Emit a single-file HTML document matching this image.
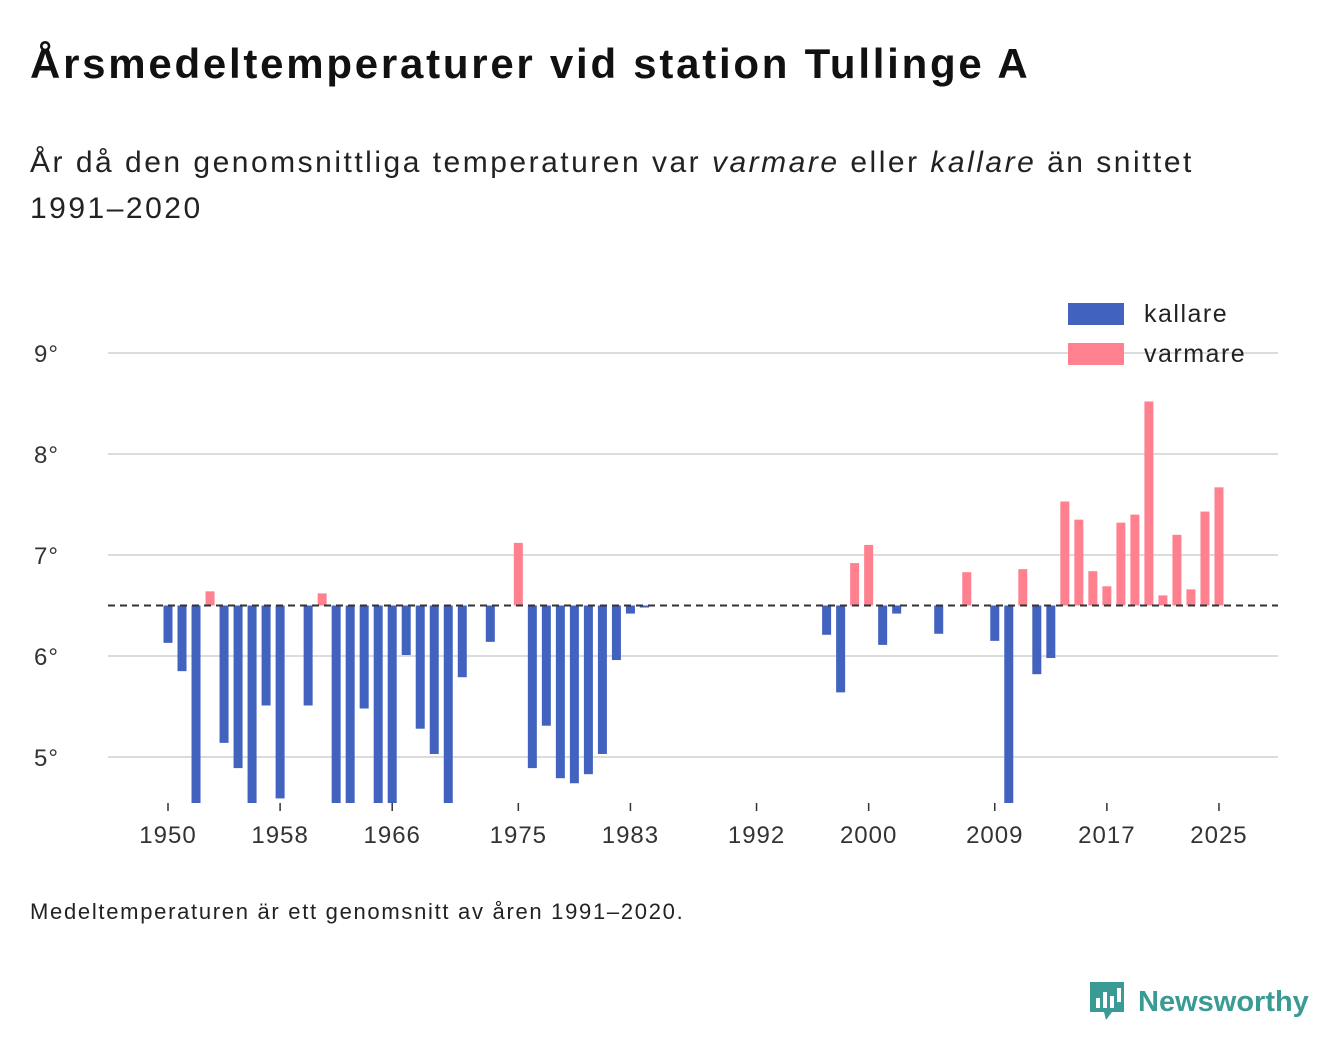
<!DOCTYPE html>
<html><head><meta charset="utf-8">
<style>
body{margin:0;background:#fff;width:1340px;height:1056px;overflow:hidden;font-family:"Liberation Sans",sans-serif;color:#111}
h1{position:absolute;left:30px;top:40px;margin:0;font-size:42px;font-weight:bold;letter-spacing:2.75px;white-space:nowrap}
.sub{position:absolute;left:30px;top:140px;font-size:30px;line-height:46px;width:1200px;color:#222;letter-spacing:2.5px}
.foot{position:absolute;left:30px;top:899px;font-size:22px;color:#222;letter-spacing:1.7px;white-space:nowrap}
.logo{position:absolute;left:1088px;top:980px;display:flex;align-items:center;color:#3a9a94;font-size:29px;font-weight:bold}
svg{position:absolute;left:0;top:0}
</style></head><body>
<h1>Årsmedeltemperaturer vid station Tullinge A</h1>
<div class="sub">År då den genomsnittliga temperaturen var <i>varmare</i> eller <i>kallare</i> än snittet 1991–2020</div>
<div class="foot">Medeltemperaturen är ett genomsnitt av åren 1991–2020.</div>
<div class="logo">
<svg width="40" height="44" viewBox="0 0 40 44" style="position:static;margin-right:10px"><path d="M2 2h34v30H24l-6 8-2-8H2z" fill="#3a9a94"/><rect x="8" y="18" width="4" height="10" fill="#fff"/><rect x="15" y="12" width="4" height="16" fill="#fff"/><rect x="22" y="16" width="4" height="12" fill="#fff"/><rect x="29" y="8" width="4" height="14" fill="#fff"/></svg>Newsworthy</div>
<svg id="chart" width="1340" height="1056"></svg>
<script>
const years=[];for(let y=1950;y<=2025;y++)years.push(y);
const values=[6.13,5.85,4.5,6.64,5.14,4.89,4.5,5.51,4.59,null,5.51,6.62,4.5,4.5,5.48,4.5,4.5,6.01,5.28,5.03,4.5,5.79,null,6.14,null,7.12,4.89,5.31,4.79,4.74,4.83,5.03,5.96,6.42,6.48,
null,null,null,null,null,null,null,null,null,null,null,null,6.21,5.64,6.92,7.1,6.11,6.42,null,null,6.22,null,6.83,null,6.15,4.5,6.86,5.82,5.98,7.53,7.35,6.84,6.69,7.32,7.4,8.52,6.6,7.2,6.66,7.43,7.67];
const yTicks=[5,6,7,8,9];
const xTicks=[1950,1958,1966,1975,1983,1992,2000,2009,2017,2025];
const baseline=6.5;
const NS="http://www.w3.org/2000/svg",svg=document.getElementById('chart');
const X=y=>168+(y-1950)*14.013, Y=v=>656-(v-6)*101;
function el(t,a,txt){const e=document.createElementNS(NS,t);for(const k in a)e.setAttribute(k,a[k]);if(txt!=null)e.textContent=txt;svg.appendChild(e);return e;}
const defs=el('defs',{});const cp=document.createElementNS(NS,'clipPath');cp.setAttribute('id','cp');
const cr=document.createElementNS(NS,'rect');cr.setAttribute('x',100);cr.setAttribute('y',300);cr.setAttribute('width',1200);cr.setAttribute('height',503);cp.appendChild(cr);defs.appendChild(cp);
yTicks.forEach(t=>{const l=el('line',{x1:108,x2:1278,y1:Y(t),y2:Y(t),stroke:'#dcdcdc','stroke-width':2});

const tx=el('text',{x:34,y:Y(t)+9,'font-size':24,fill:'#333','letter-spacing':1},t+'°');
});
xTicks.forEach(t=>{const tk=el('line',{x1:X(t),x2:X(t),y1:803,y2:811,stroke:'#333','stroke-width':1.5});

const tx=el('text',{x:X(t),y:843,'font-size':24,fill:'#333','text-anchor':'middle','letter-spacing':1},t);
});
const g=el('g',{'clip-path':'url(#cp)'});
years.forEach((yr,i)=>{const v=values[i];if(v==null)return;
const y0=Y(baseline),y1=Y(v);const r=document.createElementNS(NS,'rect');
r.setAttribute('x',X(yr)-4.5);r.setAttribute('width',9);r.setAttribute('y',Math.min(y0,y1));r.setAttribute('height',Math.max(1,Math.abs(y1-y0)));
r.setAttribute('fill',v>baseline?'#ff818f':'#4262c0');


g.appendChild(r);});
const bl=el('line',{x1:108,x2:1278,y1:Y(baseline),y2:Y(baseline),stroke:'#333','stroke-width':2,'stroke-dasharray':'7,5'});

const l1=el('rect',{x:1068,y:303,width:56,height:22,fill:'#4262c0'});
const t1=el('text',{x:1144,y:322,'font-size':25,fill:'#222','letter-spacing':1.5},'kallare');
const l2=el('rect',{x:1068,y:343,width:56,height:22,fill:'#ff818f'});
const t2=el('text',{x:1144,y:362,'font-size':25,fill:'#222','letter-spacing':1.5},'varmare');
</script>
</body></html>
